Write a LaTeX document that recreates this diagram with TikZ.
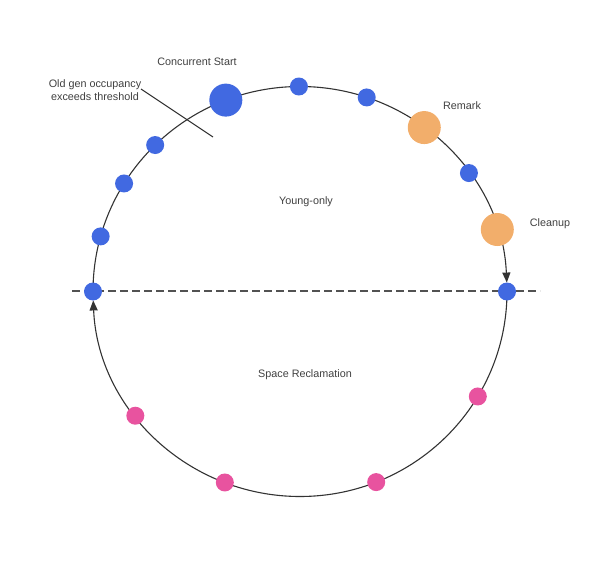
\documentclass[tikz,border=0pt]{standalone}
\usepackage{fontspec}
\setmainfont{Liberation Sans}
\usetikzlibrary{arrows.meta,calc}
\definecolor{dotblue}{HTML}{4169E1}
\definecolor{dotorange}{HTML}{F2AE6B}
\definecolor{dotpink}{HTML}{E8539F}
\definecolor{linegray}{HTML}{333333}
\definecolor{txtgray}{HTML}{404040}
\begin{document}
\begin{tikzpicture}[x=1pt,y=-1pt,
  smalldot/.style={circle,fill=#1,inner sep=0pt,minimum size=18pt},
  bigdot/.style={circle,fill=#1,inner sep=0pt,minimum size=33pt},
  lbl/.style={text=txtgray,font=\fontsize{10.8}{13.5}\selectfont,inner sep=0pt,align=center},
  ring/.style={draw=linegray,line width=1.1pt,-{Triangle[length=10pt,width=8pt]}},
  cut/.style={draw=linegray,line width=1.1pt},
  phase/.style={draw=linegray!85,line width=1.1pt,dash pattern=on 8pt off 4pt}]
\useasboundingbox (0,0) rectangle (612,585);
\coordinate (C) at (300,291.5);
% dashed phase separator
\coordinate (dl) at (72,291);
\coordinate (dr) at (540,291);
\draw[phase] (dl) -- (dr);
% ring
\draw[ring] ($(C)+(180:207 and 205)$) arc[start angle=180,end angle=357.5,x radius=207,y radius=205];
\draw[ring] ($(C)+(0:207 and 205)$) arc[start angle=0,end angle=177.5,x radius=207,y radius=205];
% crossing threshold line
\coordinate (t1) at (141,89);
\coordinate (t2) at (213,137);
\draw[cut] (t1) -- (t2);
% dots
\node[bigdot=dotblue] (cs) at ($(C)+(249:207 and 205)$) {};
\node[smalldot=dotblue] (b1) at ($(C)+(269.7:207 and 205)$) {};
\node[smalldot=dotblue] (b2) at ($(C)+(288.8:207 and 205)$) {};
\node[bigdot=dotorange] (rm) at ($(C)+(306.9:207 and 205)$) {};
\node[smalldot=dotblue] (b3) at ($(C)+(324.7:207 and 205)$) {};
\node[bigdot=dotorange] (cu) at ($(C)+(342.4:207 and 205)$) {};
\node[smalldot=dotblue] (br) at ($(C)+(0:207 and 205)$) {};
\node[smalldot=dotpink] (p1) at ($(C)+(30.8:207 and 205)$) {};
\node[smalldot=dotpink] (p2) at ($(C)+(68.4:207 and 205)$) {};
\node[smalldot=dotpink] (p3) at ($(C)+(111.3:207 and 205)$) {};
\node[smalldot=dotpink] (p4) at ($(C)+(142.7:207 and 205)$) {};
\node[smalldot=dotblue] (bl) at ($(C)+(180:207 and 205)$) {};
\node[smalldot=dotblue] (b4) at ($(C)+(195.6:207 and 205)$) {};
\node[smalldot=dotblue] (b5) at ($(C)+(211.8:207 and 205)$) {};
\node[smalldot=dotblue] (b6) at ($(C)+(225.6:207 and 205)$) {};
% labels
\node[lbl] (lcs) at (197,62) {Concurrent Start};
\node[lbl] (lold) at (95,90) {Old gen occupancy\\exceeds threshold};
\node[lbl] (lrm) at (462,106) {Remark};
\node[lbl] (lcu) at (550,224) {Cleanup};
\node[lbl] (lyo) at (306,202) {Young-only};
\node[lbl] (lsr) at (305,375) {Space Reclamation};
\end{tikzpicture}
\end{document}
